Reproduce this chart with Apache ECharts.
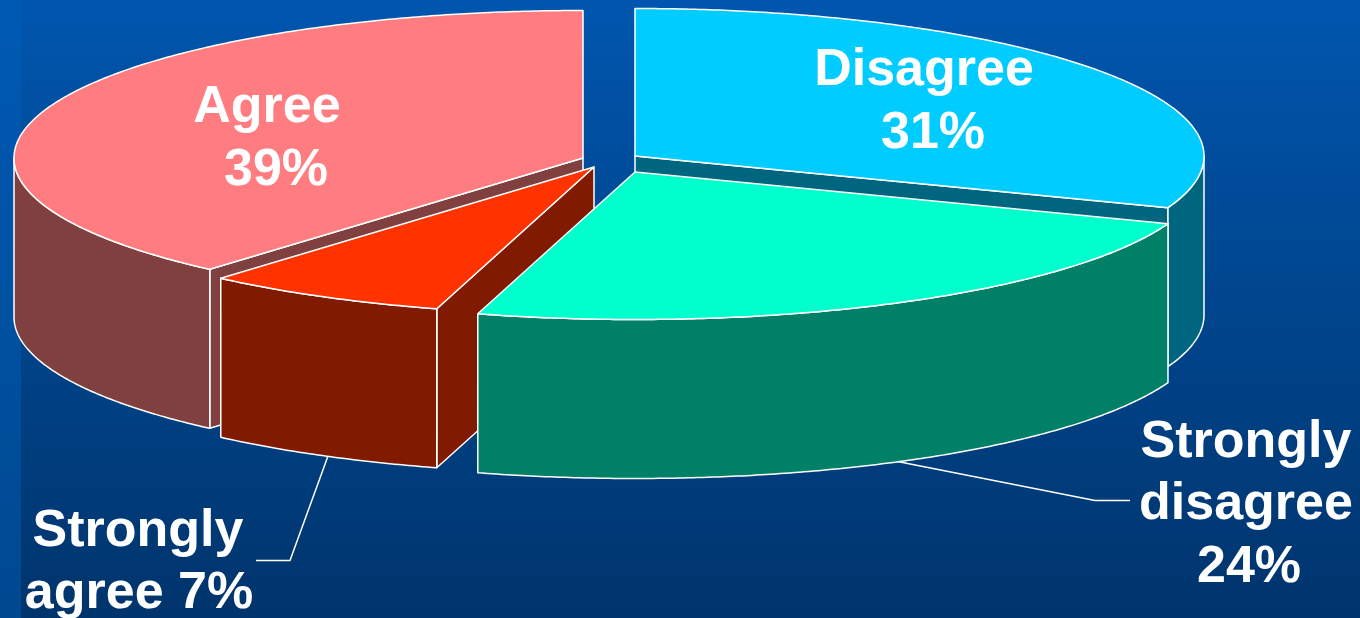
<!DOCTYPE html>
<html>
<head>
<meta charset="utf-8">
<style>html,body{margin:0;padding:0;background:#003a75}#c{width:1360px;height:618px}</style>
<script src="https://cdn.jsdelivr.net/npm/echarts@6/dist/echarts.min.js"></script>
</head>
<body>
<div id="c"></div>
<script>
// Data, clockwise from the top of the pie
const categories = ['Disagree', 'Strongly disagree', 'Strongly agree', 'Agree'];
const values = [31, 24, 7, 39];
const labelNames = [['Disagree'], ['Strongly', 'disagree'], ['Strongly'], ['Agree']];
const labelPrefixes = ['', '', 'agree ', ''];

// Styles and layout
const topColors = ['#00CCFF', '#00FFCC', '#FF3300', '#FF7C80'];
const sideColors = ['#006680', '#008066', '#801A00', '#804040'];
const apexes = [[635, 156], [635, 172], [594, 167], [583, 158]];
const labelPos = [
  [[924, 71], [933, 134]],
  [[1246, 443], [1246, 505], [1249, 568]],
  [[138, 532], [139, 594]],
  [[267, 108], [276, 171]]
];
const leaders = [null, [[895, 461], [1095, 500.5], [1130, 500.5]], [[328, 456], [290, 560.5], [256, 560.5]], null];
const drawOrder = [0, 3, 2, 1];
const RX = 569, RY = 147.5, DEPTH = 159, LINE = 1.5;

const total = values.reduce((a, b) => a + b, 0);
let acc = 0;
const spans = values.map(v => {
  const a = 90 - acc / total * 360;
  acc += v;
  return [a, 90 - acc / total * 360];
});
const pt = (c, deg, dy) => [
  c[0] + RX * Math.cos(deg * Math.PI / 180),
  c[1] - RY * Math.sin(deg * Math.PI / 180) + (dy || 0)
];
const arc = (c, a, b, dy) => {
  const n = Math.max(2, Math.ceil(Math.abs(a - b) * 2));
  const out = [];
  for (let i = 0; i <= n; i++) out.push(pt(c, a + (b - a) * i / n, dy));
  return out;
};
const poly = (points, fill) => ({
  type: 'polygon',
  shape: { points },
  style: { fill, stroke: '#fff', lineWidth: LINE, lineJoin: 'round' }
});

function renderSlice(params) {
  const i = drawOrder[params.dataIndex];
  const c = apexes[i], [a, b] = spans[i];
  const children = [];
  if (leaders[i]) children.push({
    type: 'polyline',
    shape: { points: leaders[i] },
    style: { fill: null, stroke: '#fff', lineWidth: LINE }
  });
  // straight cut walls that face the viewer
  const mid = pt(c, (a + b) / 2);
  [a, b].forEach(t => {
    const p = pt(c, t);
    const ex = p[0] - c[0], ey = p[1] - c[1];
    const toMid = ex * (mid[1] - c[1]) - ey * (mid[0] - c[0]);
    if (Math.abs(ex) > 1 && ex * toMid < 0) {
      children.push(poly([c, p, [p[0], p[1] + DEPTH], [c[0], c[1] + DEPTH]], sideColors[i]));
    }
  });
  // outer curved wall: only the front half of the ellipse
  const wa = Math.min(a, 0), wb = Math.max(b, -180);
  if (wa > wb) {
    children.push(poly(arc(c, wa, wb, 0).concat(arc(c, wb, wa, DEPTH)), sideColors[i]));
  }
  // top face
  children.push(poly([c].concat(arc(c, a, b, 0)), topColors[i]));
  return { type: 'group', children };
}

function renderLabel(params) {
  const i = params.dataIndex;
  const lines = labelNames[i].concat([labelPrefixes[i] + values[i] + '%']);
  return {
    type: 'group',
    children: lines.map((text, k) => ({
      type: 'text',
      style: {
        text,
        x: labelPos[i][k][0], y: labelPos[i][k][1],
        align: 'center', verticalAlign: 'middle',
        fontFamily: '"Liberation Sans", Arial, sans-serif',
        fontWeight: 'bold', fontSize: 52,
        fill: '#fff'
      }
    }))
  };
}

const chart = echarts.init(document.getElementById('c'), null, { renderer: 'canvas' });
chart.setOption({
  animation: false,
  backgroundColor: {
    type: 'linear', x: 0, y: 0, x2: 0, y2: 1,
    colorStops: [{ offset: 0, color: '#0056AE' }, { offset: 1, color: '#00346C' }]
  },
  graphic: [{
    type: 'rect', left: 0, top: 0, z: -1,
    shape: { width: 21, height: 618 },
    style: {
      fill: {
        type: 'linear', x: 0, y: 0, x2: 0, y2: 1,
        colorStops: [{ offset: 0, color: '#005AB4' }, { offset: 1, color: '#004890' }]
      }
    }
  }],
  series: [
    { type: 'custom', coordinateSystem: 'none', z: 2, silent: true,
      data: drawOrder.map(i => ({ name: categories[i], value: values[i] })),
      renderItem: renderSlice },
    { type: 'custom', coordinateSystem: 'none', z: 3, silent: true,
      data: categories.map((n, i) => ({ name: n, value: values[i] })),
      renderItem: renderLabel }
  ]
});
</script>
</body>
</html>
